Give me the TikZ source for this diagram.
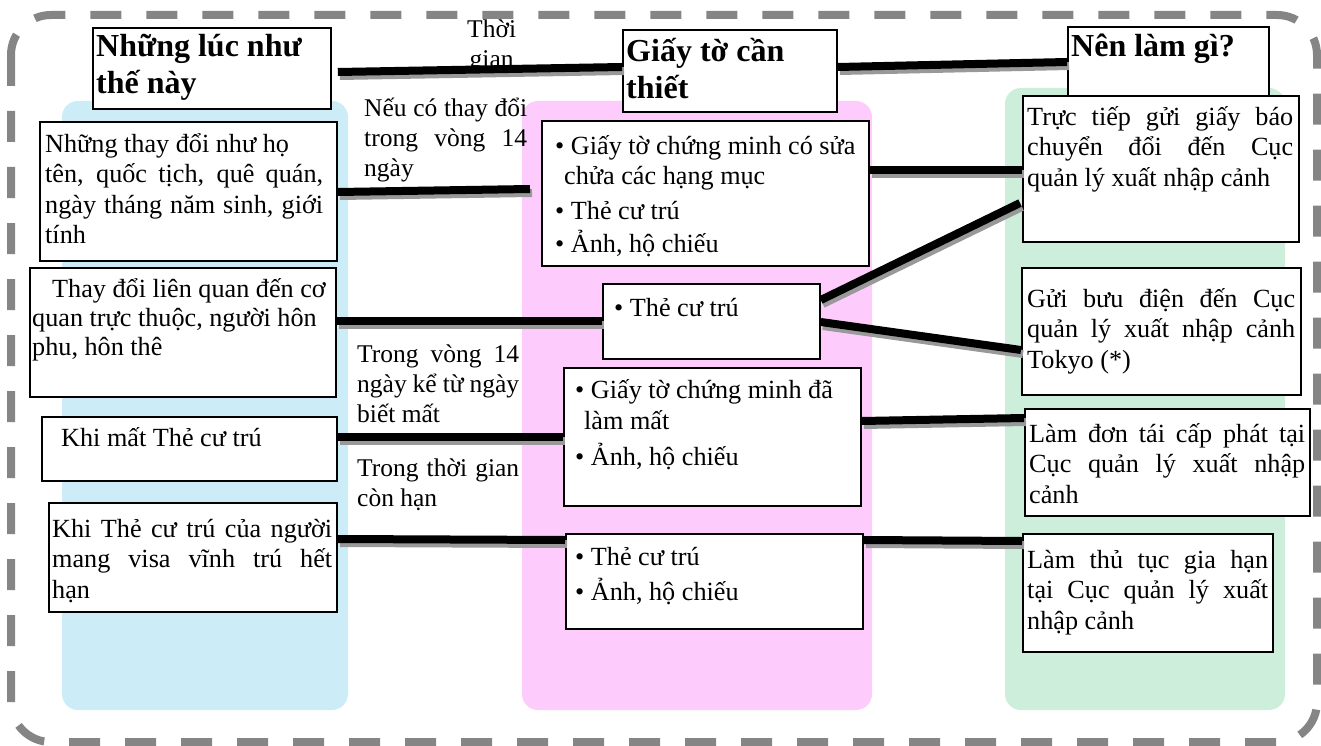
\documentclass[tikz,border=0pt]{standalone}
\usepackage{fontspec}
\setmainfont{Liberation Serif}
\usetikzlibrary{calc}
\newcommand\firstln{\rule{0pt}{24pt}}
\tikzset{
  x=1pt, y=-1pt,
  panel/.style={draw=none, rounded corners=16pt},
  boxst/.style={draw=black, line width=1.8pt, fill=white, inner sep=0pt, anchor=north west},
  txt/.style={inner sep=0pt, anchor=north west, font=\fontsize{26.2}{30.5}\selectfont},
  lbl/.style={inner sep=0pt, anchor=north west, font=\fontsize{25.5}{30}\selectfont},
  head/.style={inner sep=0pt, anchor=north west, font=\fontsize{32}{37}\selectfont\bfseries, align=left},
  conn/.style={line width=8pt, black, preaction={draw=black!40, line width=8pt, transform canvas={shift={(2pt,-4pt)}}}},
  frame/.style={draw=black!48, line width=8pt, dash pattern=on 31pt off 25pt, rounded corners=40pt},
}
\definecolor{pblue}{RGB}{204,236,248}
\definecolor{ppink}{RGB}{253,204,253}
\definecolor{pgreen}{RGB}{204,238,218}
\begin{document}
\begin{tikzpicture}
\useasboundingbox (0,0) rectangle (1321,746);
\draw[frame] (11,15) rectangle (1317,742);
% panels
\fill[pblue, panel] (62,101) rectangle (348,710);
\fill[ppink, panel] (522,101) rectangle (872,710);
\fill[pgreen, panel] (1005,88) rectangle (1285,710);
% headers
\node[boxst, minimum width=238pt, minimum height=81pt] (H1) at (92,27) {};
\node[head] (H1t) at (96,34) {Những lúc như\\thế này};
\node[boxst, minimum width=214pt, minimum height=82pt] (H2) at (622,29) {};
\node[head] (H2t) at (626,38) {Giấy tờ cần\\thiết};
\node[boxst, minimum width=201pt, minimum height=71pt] (H3) at (1067,26) {};
\node[head] (H3t) at (1071,34) {Nên làm gì?};
\node[lbl, align=center] (TG) at (467,20) {Thời\\gian};
% left boxes
\node[boxst, minimum width=297pt, minimum height=139pt] (L1) at (39,121) {};
\node[txt, text width=278pt, align=justify] (L1t) at (45,128) {\firstln Những thay đổi như họ\\tên, quốc tịch, quê quán,\linebreak ngày tháng năm sinh, giới\linebreak tính};
\node[boxst, minimum width=306pt, minimum height=129pt] (L2) at (29,267) {};
\node[txt, align=left, font=\fontsize{26.2}{29}\selectfont] (L2t) at (32,273) {\firstln\hspace*{20pt}Thay đổi liên quan đến cơ\\quan trực thuộc, người hôn\\phu, hôn thê};
\node[boxst, minimum width=295pt, minimum height=64pt] (L3) at (41,416) {};
\node[txt, align=left] (L3t) at (61,422) {\firstln Khi mất Thẻ cư trú};
\node[boxst, minimum width=288pt, minimum height=109pt] (L4) at (48,502) {};
\node[txt, text width=280pt, align=justify] (L4t) at (52,513) {\firstln Khi Thẻ cư trú của người\linebreak mang visa vĩnh trú hết\linebreak hạn};
% time labels
\node[lbl, text width=163pt, align=justify] (T1) at (364,92) {\firstln Nếu có thay đổi\linebreak trong vòng 14\linebreak ngày};
\node[lbl, text width=162pt, align=justify] (T2) at (357,338) {\firstln Trong vòng 14\linebreak ngày kể từ ngày\linebreak biết mất};
\node[lbl, text width=162pt, align=justify] (T3) at (357,452) {\firstln Trong thời gian\linebreak còn hạn};
% middle boxes
\node[boxst, minimum width=327pt, minimum height=145pt] (M1) at (541,120) {};
\node[txt, align=left] (M1t) at (555,130) {\firstln• Giấy tờ chứng minh có sửa\\\hspace*{9pt}chửa các hạng mục\\[4pt]• Thẻ cư trú\\[3pt]• Ảnh, hộ chiếu};
\node[boxst, minimum width=217pt, minimum height=75pt] (M2) at (602,283) {};
\node[txt, align=left] (M2t) at (614,292) {\firstln• Thẻ cư trú};
\node[boxst, minimum width=297pt, minimum height=138pt] (M3) at (563,367) {};
\node[txt, align=left] (M3t) at (575,374) {\firstln• Giấy tờ chứng minh đã\\[1pt]\hspace*{9pt}làm mất\\[5pt]• Ảnh, hộ chiếu};
\node[boxst, minimum width=297pt, minimum height=95pt] (M4) at (565,533) {};
\node[txt, align=left] (M4t) at (575,541) {\firstln• Thẻ cư trú\\[5pt]• Ảnh, hộ chiếu};
% right boxes
\node[boxst, minimum width=276pt, minimum height=146pt] (R1) at (1022,95) {};
\node[txt, text width=266pt, align=justify] (R1t) at (1027,101) {\firstln Trực tiếp gửi giấy báo\linebreak chuyển đổi đến Cục\linebreak quản lý xuất nhập cảnh};
\node[boxst, minimum width=279pt, minimum height=127pt] (R2) at (1021,267) {};
\node[txt, text width=268pt, align=justify] (R2t) at (1027,283) {\firstln Gửi bưu điện đến Cục\linebreak quản lý xuất nhập cảnh\linebreak Tokyo (*)};
\node[boxst, minimum width=285pt, minimum height=107pt] (R3) at (1024,408) {};
\node[txt, text width=276pt, align=justify] (R3t) at (1029,418) {\firstln Làm đơn tái cấp phát tại\linebreak Cục quản lý xuất nhập\linebreak cảnh};
\node[boxst, minimum width=250pt, minimum height=118pt] (R4) at (1022,533) {};
\node[txt, text width=241pt, align=justify] (R4t) at (1027,544) {\firstln Làm thủ tục gia hạn\linebreak tại Cục quản lý xuất\linebreak nhập cảnh};
% connectors
\draw[conn] ($(H1.north east)+(6,45)$) -- ($(H2.north west)+(0,38)$);
\draw[conn] ($(H2.north east)+(0,38)$) -- ($(H3.north west)+(0,36)$);
\draw[conn] ($(L1.north east)+(0,71)$) -- ($(M1.north west)+(-11,69)$);
\draw[conn] ($(M1.north east)+(0,50)$) -- ($(R1.north west)+(0,75)$);
\draw[conn] ($(L2.north east)+(0,54)$) -- ($(M2.north west)+(0,38)$);
\draw[conn] ($(M2.north east)+(0,17)$) -- ($(R1.north west)+(-2,108)$);
\draw[conn] ($(M2.north east)+(0,39)$) -- ($(R2.north west)+(0,83)$);
\draw[conn] ($(L3.north east)+(0,21)$) -- ($(M3.north west)+(0,70)$);
\draw[conn] ($(M3.north east)+(0,54)$) -- ($(R3.north west)+(0,10)$);
\draw[conn] ($(L4.north east)+(0,37)$) -- ($(M4.north west)+(0,7)$);
\draw[conn] ($(M4.north east)+(0,7)$) -- ($(R4.north west)+(0,8)$);
\end{tikzpicture}
\end{document}
